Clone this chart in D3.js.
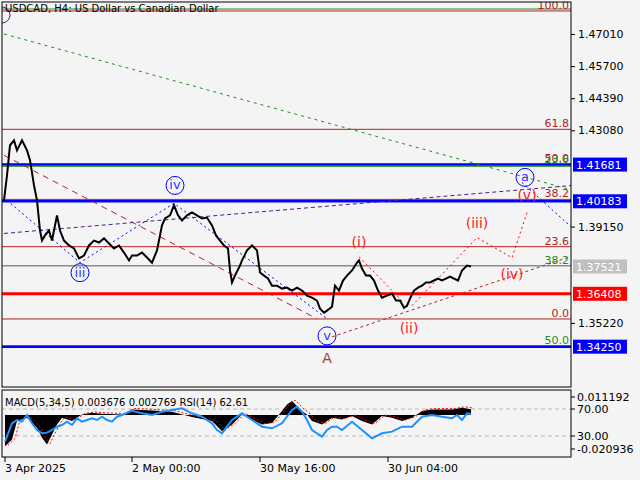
<!DOCTYPE html>
<html><head><meta charset="utf-8">
<script src="https://cdn.jsdelivr.net/npm/d3@7"></script>
<style>body{margin:0;background:#f4f4f4}svg{display:block;font-family:"DejaVu Sans",sans-serif}</style>
</head><body><svg id="c" width="640" height="480"></svg>
<script>
const title = "USDCAD, H4:  US Dollar vs Canadian Dollar";
const priceTicks = [1.4701,1.4570,1.4439,1.4308,1.4177,1.4046,1.3915,1.3784,1.3653,1.3522,1.3391];
const timeLabels = [[3,"3 Apr 2025"],[130,"2 May 00:00"],[258,"30 May 16:00"],[386,"30 Jun 04:00"]];
const pricePath = [[2,1.4022],[5,1.4124],[8,1.4247],[12,1.4267],[15,1.4226],[20,1.4267],[25,1.4226],[28,1.4186],[32,1.4083],[35,1.4022],[38,1.3899],[40,1.3858],[43,1.3879],[47,1.3899],[50,1.3858],[55,1.3961],[58,1.3899],[62,1.3858],[67,1.3838],[72,1.3826],[77,1.3785],[82,1.3797],[87,1.3838],[92,1.3858],[97,1.3850],[102,1.3867],[107,1.3846],[112,1.3826],[117,1.3838],[122,1.3809],[127,1.3777],[130,1.3797],[135,1.3797],[140,1.3809],[145,1.3789],[150,1.3768],[155,1.3818],[160,1.3920],[163,1.3948],[168,1.3961],[172,1.4002],[176,1.3961],[180,1.3940],[185,1.3961],[190,1.3973],[195,1.3961],[200,1.3948],[205,1.3952],[210,1.3920],[214,1.3879],[218,1.3858],[222,1.3838],[226,1.3826],[228,1.3736],[230,1.3687],[233,1.3715],[238,1.3756],[240,1.3777],[245,1.3818],[250,1.3838],[255,1.3818],[258,1.3728],[262,1.3715],[266,1.3703],[270,1.3674],[275,1.3674],[280,1.3662],[285,1.3666],[290,1.3654],[295,1.3666],[300,1.3654],[305,1.3633],[310,1.3625],[315,1.3613],[318,1.3580],[322,1.3564],[325,1.3572],[330,1.3588],[333,1.3674],[337,1.3654],[341,1.3695],[345,1.3715],[350,1.3736],[355,1.3768],[357,1.3777],[360,1.3744],[364,1.3715],[368,1.3715],[372,1.3695],[376,1.3654],[380,1.3625],[385,1.3633],[390,1.3642],[394,1.3613],[398,1.3613],[402,1.3584],[405,1.3592],[408,1.3621],[412,1.3654],[416,1.3666],[420,1.3674],[424,1.3687],[428,1.3687],[432,1.3695],[436,1.3703],[440,1.3695],[444,1.3703],[448,1.3711],[452,1.3703],[456,1.3695],[460,1.3736],[465,1.3756],[469,1.3752]];
const levels = [[1.4803,"#228b22",1],[1.4795,"#b22222",1],[1.4312,"#b22222",1],[1.4169,"#b22222",1],[1.4161,"#228b22",1],[1.41681,"#0000ff",2.5],[1.40183,"#0000ff",2.5],[1.4026,"#b22222",1],[1.3833,"#b22222",1],[1.3755,"#228b22",1],[1.37521,"#c0c0c0",1],[1.36408,"#ff0000",3],[1.3538,"#b22222",1],[1.3428,"#228b22",1],[1.34250,"#0000ff",2.5]];
const levelTexts = [[1.4795,"100.0","#b22222"],[1.4312,"61.8","#b22222"],[1.4169,"50.0","#b22222"],[1.4165,"23.6","#228b22"],[1.4026,"38.2","#b22222"],[1.3833,"23.6","#b22222"],[1.3755,"38.2","#228b22"],[1.3538,"0.0","#b22222"],[1.3428,"50.0","#228b22"]];
const priceBoxes = [[1.41681,"#0000ff","#fff"],[1.40183,"#0000ff","#fff"],[1.37521,"#c0c0c0","#fff"],[1.36408,"#ff0000","#fff"],[1.34250,"#0000ff","#fff"]];
const trendLines = [
 {pts:[[2,1.4206],[315,1.3539]],c:"#b22222",d:"6,5"},
 {pts:[[2,1.3887],[571,1.4083]],c:"#551a8b",d:"4,3"},
 {pts:[[2,1.4701],[571,1.4063]],c:"#228b22",d:"3,4"},
 {pts:[[5,1.4022],[78,1.3768],[172,1.4010],[325,1.3539]],c:"#0000ff",d:"2,3"},
 {pts:[[520,1.4095],[571,1.3907]],c:"#0000ff",d:"2,3"},
 {pts:[[330,1.3465],[571,1.3796]],c:"#b22222",d:"3,3"},
 {pts:[[357,1.3792],[400,1.3612]],c:"#ff0000",d:"2,3"},
 {pts:[[410,1.3592],[475,1.3870],[510,1.3788],[525,1.3972]],c:"#ff0000",d:"2,3"}];
const circleLabels = [[78,1.3727,"iii"],[173,1.4083,"iv"],[325,1.3469,"v"],[523,1.4116,"a"]];
const redLabels = [[357,1.3852,"(i)"],[407,1.3502,"(ii)"],[475,1.3931,"(iii)"],[510,1.3723,"(iv)"],[525,1.4042,"(v)"]];
const rsiPath = [[3,21.6],[10,48.8],[15,53.7],[20,51.2],[25,61.1],[30,48.8],[35,38.9],[40,34],[45,35],[50,38.9],[55,43.8],[60,46.3],[65,51.2],[70,46.3],[75,56.2],[80,51.2],[85,53.7],[90,56.2],[95,53.7],[100,58.6],[105,53.7],[110,51.2],[115,58.6],[120,61.1],[130,67.5],[140,63.6],[150,61.1],[160,66],[170,68.5],[180,71],[190,63.6],[200,58.6],[210,48.8],[215,38.9],[220,34],[225,43.8],[230,53.7],[240,63.6],[250,53.7],[260,43.8],[270,41.4],[280,48.8],[290,68.5],[295,73.4],[300,66],[305,53.7],[310,38.9],[320,29],[325,38.9],[330,43.8],[335,43.8],[340,38.9],[350,51.2],[360,38.9],[370,26.5],[380,34],[390,36.5],[400,43.8],[410,43.8],[420,58.6],[430,61.1],[440,58.6],[450,56.2],[455,61.1],[460,53.7],[465,63.6],[469,62.6]];
const macdPath = [[3,-0.0192],[10,-0.0150],[15,-0.0037],[25,-0.0017],[35,-0.0078],[40,-0.0140],[45,-0.0181],[50,-0.0119],[55,-0.0058],[60,-0.0017],[70,-0.0037],[80,0.0004],[90,0.0014],[100,0.0008],[120,0.0004],[130,0.0035],[150,0.0029],[170,0.0021],[190,-0.0012],[210,-0.0037],[220,-0.0099],[230,-0.0058],[240,0.0004],[250,-0.0027],[260,-0.0058],[270,-0.0048],[280,0.0025],[285,0.0066],[290,0.0087],[295,0.0056],[300,0.0025],[305,0.0004],[310,-0.0037],[320,-0.0058],[330,-0.0017],[340,-0.0027],[350,-0.0006],[360,-0.0037],[370,-0.0058],[380,-0.0006],[390,-0.0017],[400,-0.0037],[410,-0.0017],[420,0.0025],[430,0.0035],[440,0.0035],[450,0.0035],[460,0.0045],[469,0.0037]];
const indLabels = [[0.011192,"0.011192"],[-0.020936,"-0.020936"]];
const rsiLabels = [[70,"70.00"],[30,"30.00"]];

const svg = d3.select("#c");
svg.append("rect").attr("width",640).attr("height",480).attr("fill","#f4f4f4");
const x = d3.scaleLinear().domain([0,569]).range([2,571]);
const y = d3.scaleLinear().domain([1.4701,1.3391]).range([34,355]);
const yR = d3.scaleLinear().domain([70,30]).range([409,436]);
const yM = d3.scaleLinear().domain([0.011192,-0.020936]).range([397,449]);
const main = svg.append("g");
main.append("defs").append("clipPath").attr("id","cl").append("rect").attr("x",2).attr("y",2).attr("width",569).attr("height",385);
const g = main.append("g").attr("clip-path","url(#cl)");
levels.forEach(l=>g.append("line").attr("x1",2).attr("x2",571).attr("y1",y(l[0])).attr("y2",y(l[0])).attr("stroke",l[1]).attr("stroke-width",l[2]));
const ln = d3.line().x(d=>x(d[0])).y(d=>y(d[1]));
trendLines.forEach(t=>g.append("path").attr("d",ln(t.pts)).attr("fill","none").attr("stroke",t.c).attr("stroke-width",1).attr("stroke-dasharray",t.d));
g.append("path").attr("d",ln(pricePath)).attr("fill","none").attr("stroke","#000").attr("stroke-width",2);
levelTexts.forEach(t=>g.append("text").attr("x",569).attr("y",y(t[0])-2).attr("text-anchor","end").attr("font-size",11).attr("fill",t[2]).text(t[1]));
circleLabels.forEach(c=>{g.append("circle").attr("cx",x(c[0])).attr("cy",y(c[1])).attr("r",9).attr("fill","none").attr("stroke","#0000ff");
 g.append("text").attr("x",x(c[0])).attr("y",y(c[1])+4).attr("text-anchor","middle").attr("font-size",13).attr("fill","#3333ff").text(c[2]);});
redLabels.forEach(c=>g.append("text").attr("x",x(c[0])).attr("y",y(c[1])+5).attr("text-anchor","middle").attr("font-size",14).attr("fill","#ff2020").text(c[2]));
g.append("text").attr("x",x(325)).attr("y",y(1.3379)+5).attr("text-anchor","middle").attr("font-size",14).attr("fill","#a0422a").text("A");
g.append("circle").attr("cx",2).attr("cy",15).attr("r",8).attr("fill","none").attr("stroke","#551a8b");
g.append("text").attr("x",5).attr("y",12).attr("font-size",10).attr("fill","#000").text(title);
main.append("rect").attr("x",2).attr("y",2).attr("width",569).attr("height",385).attr("fill","none").attr("stroke","#000");
const freeTicks = priceTicks.filter(t=>priceBoxes.every(b=>Math.abs(y(t)-y(b[0]))>12));
const ax = svg.append("g").attr("transform","translate(571,0)").call(d3.axisRight(y).tickValues(freeTicks).tickSize(4).tickFormat(d3.format(".5f")));
ax.select(".domain").remove();
ax.selectAll("text").attr("font-size",11).attr("font-family","DejaVu Sans").attr("fill","#000");
priceBoxes.forEach(b=>{svg.append("rect").attr("x",573).attr("y",y(b[0])-7).attr("width",54).attr("height",14).attr("fill",b[1]);
 svg.append("text").attr("x",576).attr("y",y(b[0])+4).attr("font-size",11).attr("fill",b[2]).text(d3.format(".5f")(b[0]));});
const p = svg.append("g");
p.append("defs").append("clipPath").attr("id","cl2").append("rect").attr("x",2).attr("y",390).attr("width",569).attr("height",67);
const pg = p.append("g").attr("clip-path","url(#cl2)");
rsiLabels.forEach(r=>pg.append("line").attr("x1",2).attr("x2",571).attr("y1",yR(r[0])).attr("y2",yR(r[0])).attr("stroke","#bbb").attr("stroke-dasharray","4,3"));
pg.append("path").attr("d",d3.area().x(d=>x(d[0])).y0(yM(0)).y1(d=>yM(d[1]))(macdPath)).attr("fill","#000");
pg.append("path").attr("d",d3.line().x(d=>x(d[0])+3).y(d=>yM(d[1])-1)(macdPath)).attr("fill","none").attr("stroke","#ff0000").attr("stroke-dasharray","2,2");
pg.append("path").attr("d",d3.line().x(d=>x(d[0])).y(d=>yR(d[1]))(rsiPath)).attr("fill","none").attr("stroke","#1e90ff").attr("stroke-width",2);
p.append("text").attr("x",5).attr("y",406).attr("font-size",10).text("MACD(5,34,5) 0.003676 0.002769 RSI(14) 62.61");
p.append("rect").attr("x",2).attr("y",390).attr("width",569).attr("height",67).attr("fill","none").attr("stroke","#000");
indLabels.forEach(l=>{p.append("line").attr("x1",571).attr("x2",575).attr("y1",yM(l[0])).attr("y2",yM(l[0])).attr("stroke","#000");
 p.append("text").attr("x",577).attr("y",yM(l[0])+4).attr("font-size",11).text(l[1]);});
rsiLabels.forEach(l=>{p.append("line").attr("x1",571).attr("x2",575).attr("y1",yR(l[0])).attr("y2",yR(l[0])).attr("stroke","#000");
 p.append("text").attr("x",577).attr("y",yR(l[0])+4).attr("font-size",11).text(l[1]);});
timeLabels.forEach(t=>{svg.append("line").attr("x1",x(t[0])).attr("x2",x(t[0])).attr("y1",457).attr("y2",462).attr("stroke","#000");
 svg.append("text").attr("x",x(t[0])).attr("y",472).attr("font-size",11).text(t[1]);});
</script></body></html>
